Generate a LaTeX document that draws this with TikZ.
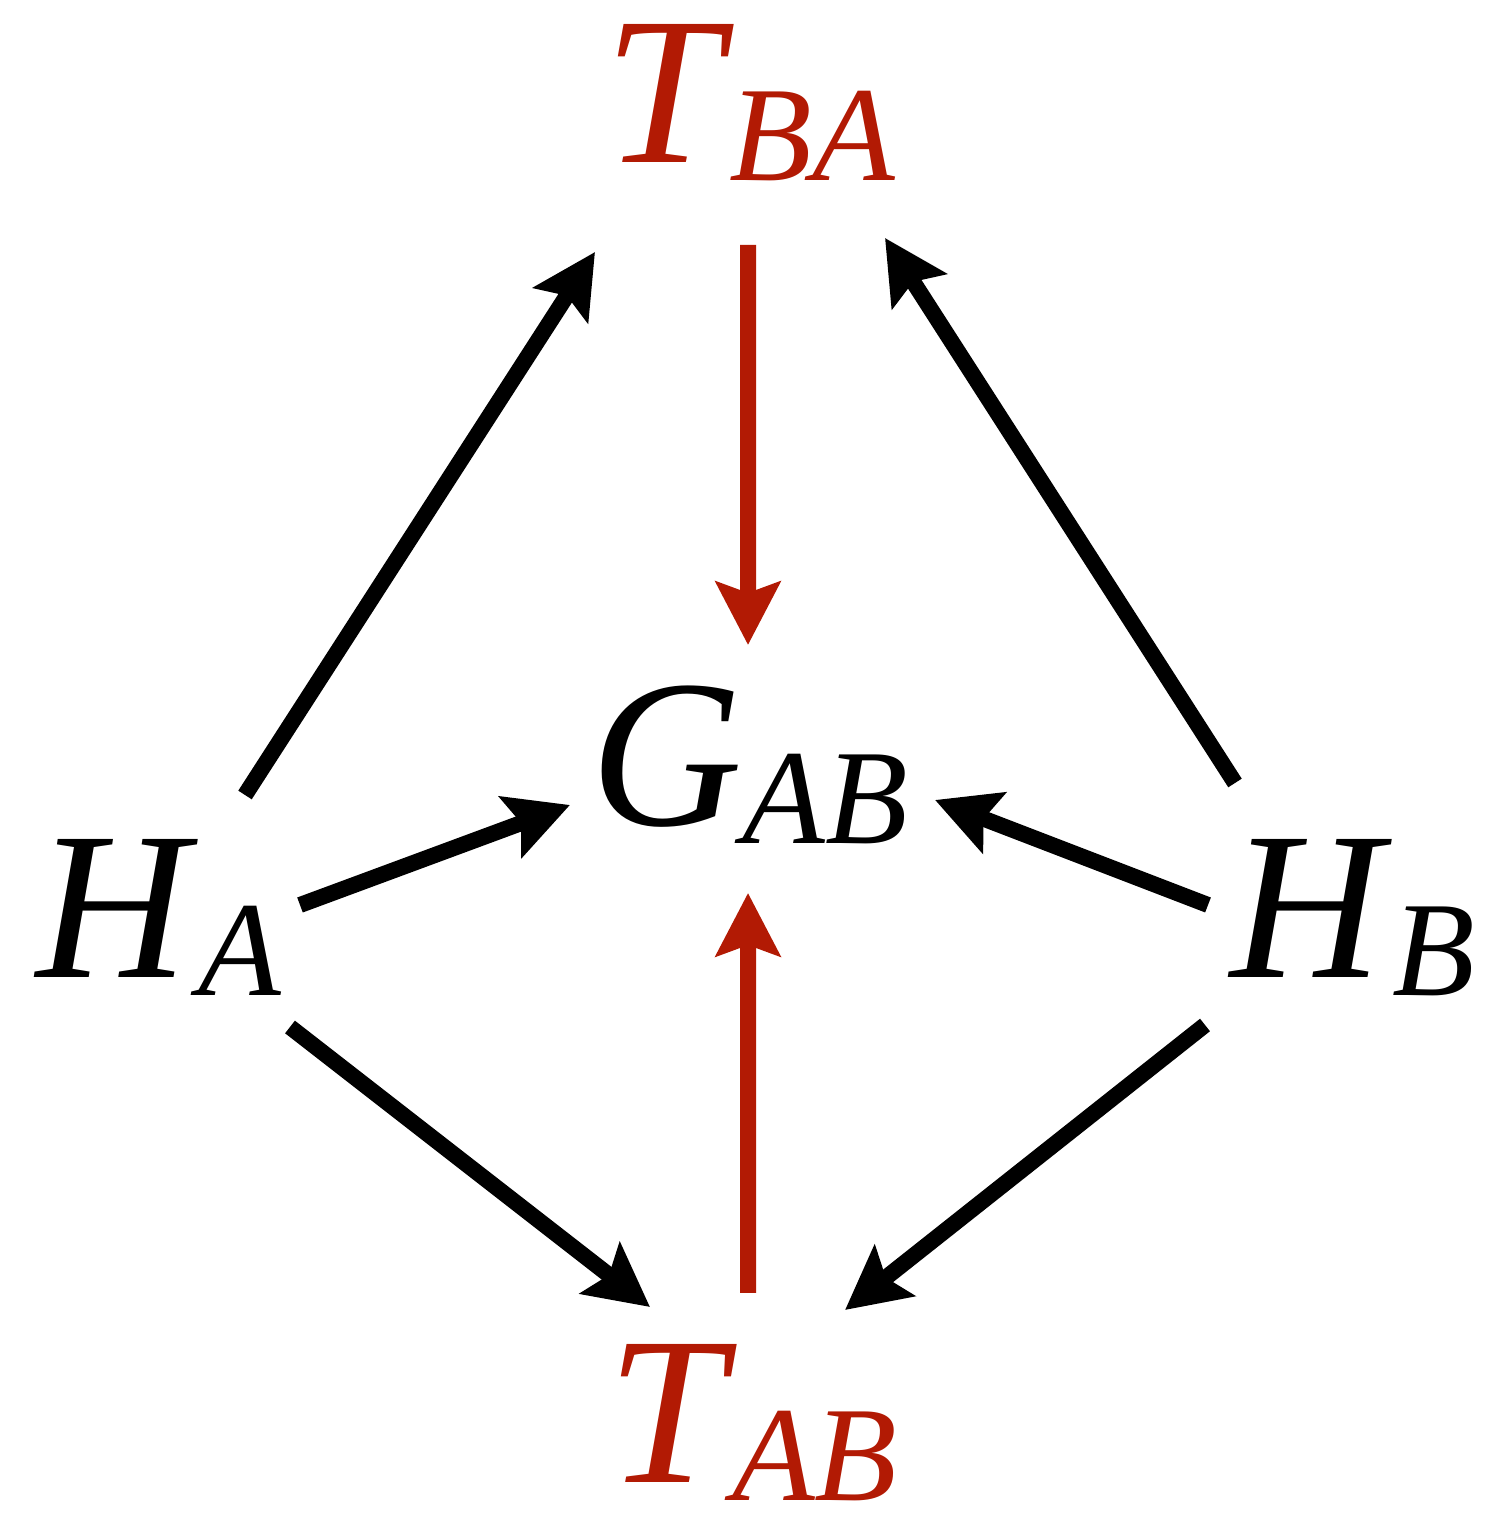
\documentclass[tikz,border=0pt]{standalone}
\usepackage{fontspec}
\setmainfont{Liberation Serif}
\usepackage{xcolor}
\usepackage{tikz}
\usetikzlibrary{positioning, arrows.meta, calc}

\definecolor{tred}{RGB}{178,26,4}
\newcommand{\sublbl}[3]{\textit{#1}\kern#3\raisebox{-0.18cm}{\fontsize{38.5}{40}\selectfont\textit{#2}}}

\begin{document}
\begin{tikzpicture}[
    lbl/.style={inner sep=0pt, font=\fontsize{60}{64}\selectfont},
    rlbl/.style={lbl, text=tred},
    arr/.style={-{Stealth[length=0.63cm, width=0.64cm, inset=0.11cm]},
                line width=0.16cm},
    rarr/.style={arr, draw=tred, fill=tred}
  ]
    \useasboundingbox (0,0) rectangle (14.9,15.16);

    % ── labels ──
    \node[rlbl] (tba) at (7.50,14.135) {\sublbl{T}{BA}{-0.05cm}};
    \node[lbl]  (gab) at (7.49,7.51)   {\sublbl{G}{AB}{0cm}};
    \node[lbl]  (ha)  at (1.59,5.985)  {\sublbl{H}{A}{0cm}};
    \node[lbl]  (hb)  at (13.525,5.985) {\sublbl{H}{B}{0cm}};
    \node[rlbl] (tab) at (7.525,0.935) {\sublbl{T}{AB}{-0.05cm}};

    % ── from H_A ──
    \draw[arr] ([shift={(0.86,1.225)}]ha.center) -- ([shift={(-1.55,-1.495)}]tba.center);
    \draw[arr] ([shift={(1.41,0.125)}]ha.center) -- ([shift={(-1.79,-0.40)}]gab.center);
    \draw[arr] ([shift={(1.31,-1.095)}]ha.center) -- ([shift={(-1.025,1.155)}]tab.center);

    % ── from H_B ──
    \draw[arr] ([shift={(-1.175,1.345)}]hb.center) -- ([shift={(1.35,-1.355)}]tba.center);
    \draw[arr] ([shift={(-1.445,0.125)}]hb.center) -- ([shift={(1.86,-0.35)}]gab.center);
    \draw[arr] ([shift={(-1.475,-1.075)}]hb.center) -- ([shift={(0.925,1.125)}]tab.center);

    % ── red ones into G_AB ──
    \draw[rarr] ([shift={(-0.02,-1.425)}]tba.center) -- ([shift={(-0.01,1.20)}]gab.center);
    \draw[rarr] ([shift={(-0.045,1.295)}]tab.center) -- ([shift={(-0.01,-1.28)}]gab.center);

\end{tikzpicture}
\end{document}
